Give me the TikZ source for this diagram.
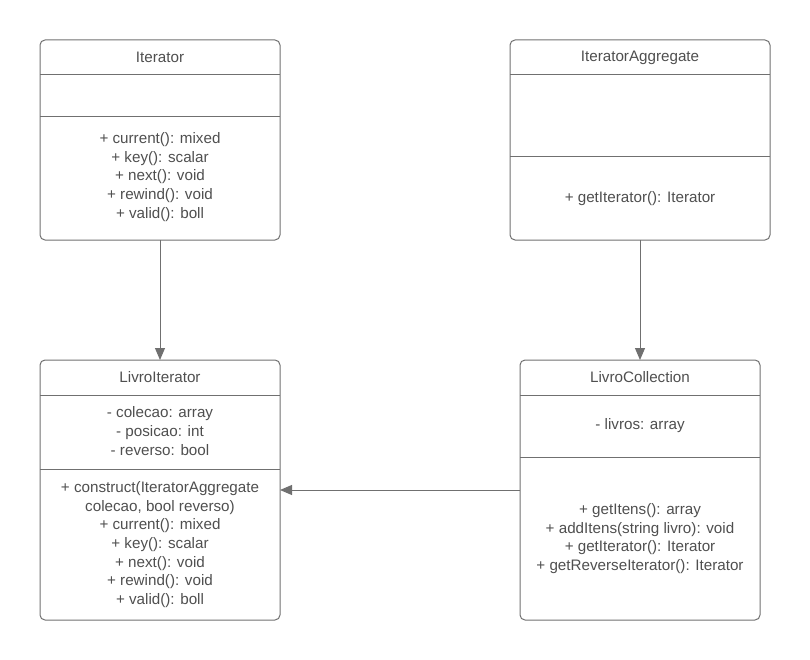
\documentclass[tikz,border=0pt]{standalone}
\usepackage{fontspec}
\setmainfont{Liberation Sans}
\usetikzlibrary{arrows.meta}
\definecolor{linec}{HTML}{707070}
\definecolor{txtc}{HTML}{4F4F4F}
\begin{document}
\begin{tikzpicture}[x=1pt,y=-1pt,
  box/.style={draw=linec, line width=1pt, rounded corners=5pt, anchor=north west, inner sep=0pt, outer sep=0pt},
  div/.style={draw=linec, line width=1pt},
  lbl/.style={text=txtc, font=\fontsize{15.2}{18.7}\selectfont, align=center, inner sep=0pt},
  arr/.style={draw=linec, line width=1pt, -{Triangle[length=12pt,width=10pt]}}]
\useasboundingbox (0,0) rectangle (810,660);
% Iterator
\node[box, minimum width=240pt, minimum height=200pt] (it) at (40,40) {};
\draw[div] (40,75) -- (280,75);
\draw[div] (40,117) -- (280,117);
\node[lbl] (itT) at (160,57.5) {Iterator};
\node[lbl] (itM) at (160,177) {+ current(): mixed\\+ key(): scalar\\+ next(): void\\+ rewind(): void\\+ valid(): boll};
% IteratorAggregate
\node[box, minimum width=260pt, minimum height=200pt] (ia) at (510,40) {};
\draw[div] (510,75) -- (770,75);
\draw[div] (510,157) -- (770,157);
\node[lbl] (iaT) at (640,57.5) {IteratorAggregate};
\node[lbl] (iaM) at (640,198.5) {+ getIterator(): Iterator};
% LivroIterator
\node[box, minimum width=240pt, minimum height=260pt] (li) at (40,360) {};
\draw[div] (40,395) -- (280,395);
\draw[div] (40,469) -- (280,469);
\node[lbl] (liT) at (160,377.5) {LivroIterator};
\node[lbl] (liA) at (160,431) {- colecao: array\\- posicao: int\\- reverso: bool};
\node[lbl] (liM) at (160,544.5) {+ construct(IteratorAggregate\\colecao, bool reverso)\\+ current(): mixed\\+ key(): scalar\\+ next(): void\\+ rewind(): void\\+ valid(): boll};
% LivroCollection
\node[box, minimum width=240pt, minimum height=260pt] (lc) at (520,360) {};
\draw[div] (520,395) -- (760,395);
\draw[div] (520,457) -- (760,457);
\node[lbl] (lcT) at (640,377.5) {LivroCollection};
\node[lbl] (lcA) at (640,425.5) {- livros: array};
\node[lbl] (lcM) at (640,538.5) {+ getItens(): array\\+ addItens(string livro): void\\+ getIterator(): Iterator\\+ getReverseIterator(): Iterator};
% connectors
\draw[arr] (it.south) -- (li.north);
\draw[arr] (ia.south) -- (lc.north);
\draw[arr] (lc.west) -- (li.east);
\end{tikzpicture}
\end{document}
